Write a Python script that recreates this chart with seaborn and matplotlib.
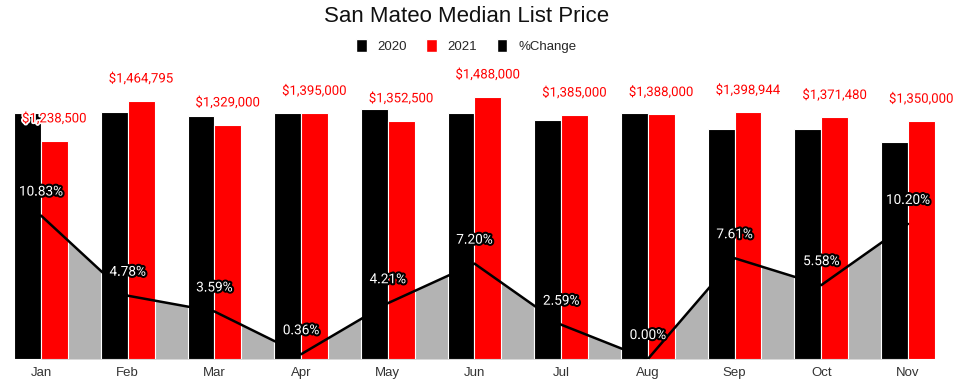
import numpy as np
import pandas as pd
import matplotlib
matplotlib.use("Agg")
import matplotlib.pyplot as plt
import matplotlib.patheffects as pe
from matplotlib.patches import Patch
import seaborn as sns

months = ["Jan", "Feb", "Mar", "Apr", "May", "Jun", "Jul", "Aug", "Sep", "Oct", "Nov"]
price_2020 = [1397000, 1404000, 1381000, 1398000, 1420000, 1398000,
              1358000, 1398000, 1307000, 1307000, 1233000]
price_2021 = [1238500, 1464795, 1329000, 1395000, 1352500, 1488000,
              1385000, 1388000, 1398944, 1371480, 1350000]
pct_change = [10.83, 4.78, 3.59, 0.36, 4.21, 7.20, 2.59, 0.00, 7.61, 5.58, 10.20]

df = pd.DataFrame({
    "month": months * 2,
    "year": ["2020"] * len(months) + ["2021"] * len(months),
    "price": price_2020 + price_2021,
})

sns.set_theme(style="white")
plt.rcParams["font.family"] = ["Roboto", "DejaVu Sans"]
arial = ["Liberation Sans", "DejaVu Sans"]

fig = plt.figure(figsize=(9.67, 3.88), dpi=100)
ax = fig.add_axes([0.0, 29 / 388, 1.0, 299 / 388])
ax2 = ax.twinx()
ax.set_zorder(2)
ax.patch.set_visible(False)

# %change area sits behind the bars
x = np.arange(len(months))
ax2.fill_between(x, pct_change, 0, color="#b3b3b3", lw=0, zorder=1)
ax2.set_ylim(0, 299 * 0.0755)

sns.barplot(data=df, x="month", y="price", hue="year", order=months,
            palette={"2020": "#000000", "2021": "#ff0000"}, width=0.62,
            edgecolor="white", linewidth=0.8, saturation=1, legend=False, ax=ax)
ax.set_ylim(0, 299 * 5675)
ax.set_xlim((0 - 41) / 86.7, (967 - 41) / 86.7)

# line goes on top, converted to the price axis scale
scale = (299 * 5675) / (299 * 0.0755)
ax.plot(x, np.array(pct_change) * scale, color="black", lw=1.8, zorder=5)

red_fx = [pe.withStroke(linewidth=2.5, foreground="white")]
for i, v in enumerate(price_2021):
    ax.text(i + 0.155, v + 22 * 5675, f"${v:,.0f}", color="#ff0000", fontsize=9.5,
            ha="center", va="center", zorder=6, path_effects=red_fx)

pct_fx = [pe.withStroke(linewidth=3, foreground="black")]
for i, p in enumerate(pct_change):
    ax.text(i, p * scale + 24 * 5675, f"{p:.2f}%", color="white", fontsize=9.8,
            ha="center", va="center", zorder=7, path_effects=pct_fx)

ax.set_xlabel("")
ax.set_ylabel("")
ax.set_yticks([])
ax2.set_yticks([])
ax.tick_params(axis="x", length=0, pad=6, labelsize=9.5, colors="#333333")
for lbl in ax.get_xticklabels():
    lbl.set_family(arial)
for a in (ax, ax2):
    for s in a.spines.values():
        s.set_visible(False)

fig.text(0.482, 1 - 16 / 388, "San Mateo Median List Price", ha="center", va="center",
         fontsize=16, color="#111111", family=arial)
handles = [Patch(facecolor="black", label="2020"), Patch(facecolor="#ff0000", label="2021"),
           Patch(facecolor="black", label="%Change")]
fig.legend(handles=handles, loc="center", bbox_to_anchor=(0.482, 1 - 46 / 388), ncol=3,
           frameon=False, prop={"family": arial, "size": 9.5}, handlelength=0.8,
           handleheight=1.2, handletextpad=0.8, columnspacing=1.5)

fig.savefig("out.png", dpi=100)
